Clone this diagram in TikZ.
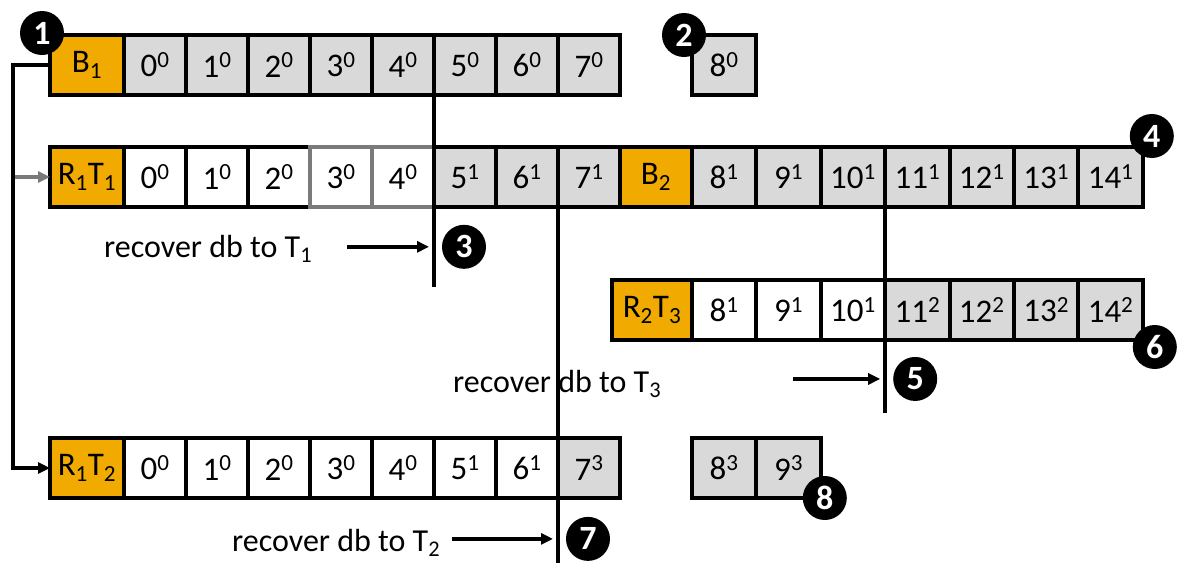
\documentclass[tikz,border=0pt]{standalone}
\usepackage{fontspec}
\setmainfont{Carlito}
\usepackage{tikz}
\usetikzlibrary{calc,arrows.meta}
\definecolor{logorange}{HTML}{F0AA00}
\definecolor{loggray}{HTML}{D9D9D9}
\definecolor{logedge}{HTML}{7A7A7A}
\tikzstyle{entry}=[rectangle,draw=black,line width=4pt,fill=white,
                   minimum width=62pt,minimum height=60pt,inner sep=0pt,outer sep=0pt,
                   anchor=north west,font=\fontsize{33}{36}\selectfont]
\tikzstyle{old}=[entry,fill=loggray]
\tikzstyle{dropped}=[entry,draw=logedge]
\tikzstyle{wide}=[minimum width=64.4pt]
\tikzstyle{head}=[entry,fill=logorange,minimum width=74pt]
\tikzstyle{badge}=[circle,fill=black,text=white,minimum size=44pt,inner sep=0pt,
                   font=\fontsize{34}{36}\selectfont\bfseries]
\tikzstyle{cut}=[line width=3.5pt]
\tikzstyle{conn}=[line width=3.5pt,-{Triangle[length=12pt,width=11pt]}]
\tikzstyle{note}=[font=\fontsize{32}{36}\selectfont,inner sep=0pt,anchor=base west]
\newcommand\tx[2]{#1\textsuperscript{#2}}
\newcommand\cellw{62}
\newcommand\cellW{64.4}

\begin{document}
\begin{tikzpicture}[x=1pt,y=1pt]
    \useasboundingbox (0,0) rectangle (1195,-563);

    % first log, backup B1
    \node [head] (B1) at (50,-35) {B\textsubscript{1}};
    \foreach \i in {0,...,7}
        \node [old] (top\i) at ($(B1.north east)+(\i*\cellw,0)$) {\tx{\i}{0}};

    % restored from B1 at T1, then backup B2
    \node [head] (R1T1) at (50,-147) {R\textsubscript{1}T\textsubscript{1}};
    \foreach \i in {0,1,2}
        \node [entry] (mid\i) at ($(R1T1.north east)+(\i*\cellw,0)$) {\tx{\i}{0}};
    \foreach \i in {3,4}
        \node [dropped] (mid\i) at ($(R1T1.north east)+(\i*\cellw,0)$) {\tx{\i}{0}};
    \foreach \i in {5,6,7}
        \node [old] (mid\i) at ($(R1T1.north east)+(\i*\cellw,0)$) {\tx{\i}{1}};
    \node [head,minimum width=72pt] (B2) at (mid7.north east) {B\textsubscript{2}};
    \foreach \i in {8,...,14}
        \node [old,wide] (mid\i) at ($(B2.north east)+({(\i-8)*\cellW},0)$) {\tx{\i}{1}};

    % lost tail of the first log
    \node [old,wide] (top8) at (mid8.north west |- B1.north west) {\tx{8}{0}};

    % restored from B2 at T3
    \node [head,minimum width=80pt,anchor=north east] (R2T3) at ($(B2.south east)+(0,-73)$) {R\textsubscript{2}T\textsubscript{3}};
    \foreach \i in {8,9,10}
        \node [entry,wide] (br\i) at ($(R2T3.north east)+({(\i-8)*\cellW},0)$) {\tx{\i}{1}};
    \foreach \i in {11,...,14}
        \node [old,wide] (br\i) at ($(R2T3.north east)+({(\i-8)*\cellW},0)$) {\tx{\i}{2}};

    % restored from B1 at T2
    \node [head] (R1T2) at (50,-438) {R\textsubscript{1}T\textsubscript{2}};
    \foreach \i in {0,...,4}
        \node [entry] (low\i) at ($(R1T2.north east)+(\i*\cellw,0)$) {\tx{\i}{0}};
    \foreach \i in {5,6}
        \node [entry] (low\i) at ($(R1T2.north east)+(\i*\cellw,0)$) {\tx{\i}{1}};
    \node [old] (low7) at ($(R1T2.north east)+(7*\cellw,0)$) {\tx{7}{3}};
    \node [old,wide] (low8) at (mid8.north west |- R1T2.north west) {\tx{8}{3}};
    \node [old,wide] (low9) at (low8.north east) {\tx{9}{3}};

    % restore points
    \coordinate (cut1) at ($(top5.south west)+(0,-192)$);
    \coordinate (cut2) at (mid7.south west |- 0,-563);
    \coordinate (cut3) at ($(mid11.south west)+(0,-206)$);
    \draw [cut] (top5.south west) -- (cut1);
    \draw [cut] (mid7.south west) -- (cut2);
    \draw [cut] (mid11.south west) -- (cut3);

    \node [note] (rec1) at (104,-257) {recover db to T\textsubscript{1}};
    \node [note] (rec3) at (453,-392) {recover db to T\textsubscript{3}};
    \node [note] (rec2) at (232,-551) {recover db to T\textsubscript{2}};

    \coordinate (hit1) at ($(cut1 |- rec1.east)+(0,2)$);
    \coordinate (hit3) at ($(cut3 |- rec3.east)+(0,5)$);
    \coordinate (hit2) at ($(cut2 |- rec2.east)+(0,4)$);
    \draw [conn] ($(hit1)+(-87,0)$) -- ($(hit1)+(-5,0)$);
    \draw [conn] ($(hit3)+(-92,0)$) -- ($(hit3)+(-5,0)$);
    \draw [conn] ($(hit2)+(-106,0)$) -- ($(hit2)+(-5,0)$);

    % where each log is replayed from
    \coordinate (trunk) at ($(B1.west)+(-37,0)$);
    \draw [conn,draw=logedge] (trunk |- R1T1.west) -- (R1T1.west);
    \draw [conn] (B1.west) -- (trunk) |- (R1T2.west);

    % step markers
    \node [badge] (n1) at ($(B1.north west)+(-8,2)$) {1};
    \node [badge] (n2) at ($(top8.north west)+(-8,0)$) {2};
    \node [badge] (n3) at ($(hit1)+(30,0)$) {3};
    \node [badge] (n4) at ($(mid14.north east)+(9,11)$) {4};
    \node [badge] (n5) at ($(hit3)+(30,0)$) {5};
    \node [badge] (n6) at ($(br14.south east)+(12,-7)$) {6};
    \node [badge] (n7) at ($(hit2)+(30,0)$) {7};
    \node [badge] (n8) at ($(low9.south east)+(4,0)$) {8};
\end{tikzpicture}
\end{document}
